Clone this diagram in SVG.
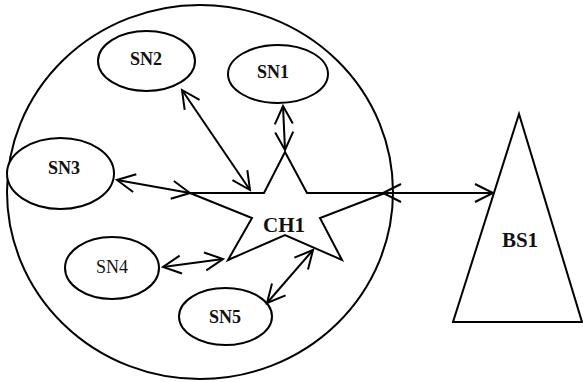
<svg xmlns="http://www.w3.org/2000/svg" width="583" height="382" viewBox="0 0 583 382">
<style>
.s{fill:none;stroke:#000;stroke-width:2}
.w{fill:#fff;stroke:#000;stroke-width:2}
.t{font-family:"Liberation Serif","Times New Roman",serif;font-size:18px;fill:#111;text-anchor:middle}
.b{font-weight:bold}
.c{stroke:#000;stroke-width:2;fill:none;marker-start:url(#ah);marker-end:url(#ah)}
</style>
<defs>
<marker id="ah" markerUnits="userSpaceOnUse" markerWidth="24" markerHeight="24" viewBox="-20 -12 24 24" refX="0" refY="0" orient="auto-start-reverse">
<path d="M-18,-9 L0,0 L-18,9" fill="none" stroke="#000" stroke-width="2"/>
</marker>
</defs>
<g id="cluster"><ellipse class="s" cx="200" cy="192" rx="193" ry="187"/></g>
<g id="SN2"><ellipse class="w" cx="146.5" cy="61" rx="48.5" ry="30"/><text class="t b" x="146" y="65">SN2</text></g>
<g id="SN1"><ellipse class="w" cx="278" cy="74" rx="50" ry="29"/><text class="t b" x="273" y="78">SN1</text></g>
<g id="SN3"><ellipse class="w" cx="60.5" cy="173.5" rx="53.5" ry="35.5"/><text class="t b" x="64" y="174">SN3</text></g>
<g id="SN4"><ellipse class="w" cx="112" cy="268" rx="47" ry="31"/><text class="t" x="112" y="273">SN4</text></g>
<g id="SN5"><ellipse class="w" cx="225.5" cy="316.5" rx="46.5" ry="28.5"/><text class="t b" x="225" y="323">SN5</text></g>
<g id="CH1"><polygon class="s" points="285,152 307,193 385,193 320,218 342,260 285,235 228,260 252,218 190,193 264,193"/><text class="t b" x="284" y="232" style="font-size:21px">CH1</text></g>
<g id="BS1"><polygon class="s" points="519,114 453,322 582,322"/><text class="t b" x="520" y="247" style="font-size:21px">BS1</text></g>
<g id="connectors">
<line class="c" x1="182" y1="90" x2="250" y2="190"/>
<line class="c" x1="283" y1="106" x2="285" y2="150"/>
<line class="c" x1="117" y1="180" x2="190" y2="193"/>
<line class="c" x1="163" y1="267" x2="223" y2="259"/>
<line class="c" x1="267" y1="303" x2="313" y2="250"/>
<line class="c" x1="383" y1="193" x2="493" y2="193"/>
</g>
</svg>
